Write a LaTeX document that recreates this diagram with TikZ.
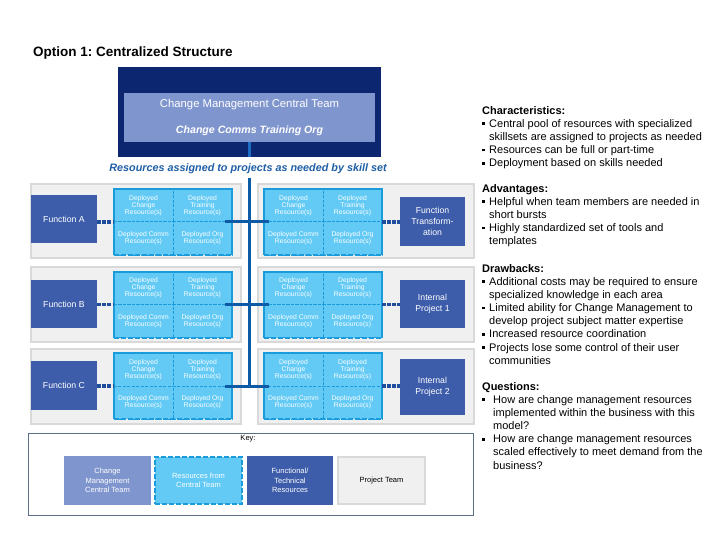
\documentclass[tikz,border=0pt]{standalone}
\usepackage{fontspec}
\setmainfont{Liberation Sans}
\usetikzlibrary{calc}
\frenchspacing
\definecolor{navy}{HTML}{0C2670}
\definecolor{peri}{HTML}{7F95CD}
\definecolor{func}{HTML}{3D5DAA}
\definecolor{cellfill}{HTML}{62CAF5}
\definecolor{cellline}{HTML}{1A9BDB}
\definecolor{conn}{HTML}{0D5AA7}
\definecolor{conntop}{HTML}{1C6BC4}
\definecolor{dotc}{HTML}{1F4E9C}
\definecolor{assign}{HTML}{1F5FA6}
\definecolor{panelfill}{HTML}{F0F0F0}
\definecolor{panelline}{HTML}{D9D9D9}
\definecolor{keyline}{HTML}{5B6F8A}
\newcommand\fs[2]{\fontsize{#1}{#2}\selectfont}
\newcommand\sqb{\raisebox{2.3pt}{\rule{2.6pt}{2.6pt}}}
\tikzset{
  panel/.style={draw=panelline, fill=panelfill, line width=2.5pt, inner sep=0},
  funcbox/.style={fill=func, text=white, inner sep=0, align=center, font=\fs{8.7}{11}},
  cell/.style={fill=cellfill, draw=cellline, line width=1pt, dash pattern=on 3pt off 1.5pt,
    text=white, align=center, inner sep=0, minimum width=59pt, minimum height=33pt, font=\fs{6.8}{6.9}},
  clusterline/.style={draw=cellline, line width=2pt},
  clusterdash/.style={draw=cellline, line width=2pt, dash pattern=on 5pt off 2pt},
  hconn/.style={draw=conn, line width=3pt},
  dotconn/.style={draw=dotc, line width=3.5pt, dash pattern=on 3.5pt off 1.6pt},
  keytext/.style={font=\fs{7.5}{9.5}, align=center},
  sidetext/.style={anchor=north west, inner sep=0, font=\fs{11}{13.15}},
}
\newcommand\rescluster[3]{%
  \node[cell] (#1a) at (#2+29.5, #3+16.5) {Deployed\\Change\\Resource(s)};
  \node[cell] (#1b) at (#2+88.5, #3+16.5) {Deployed\\Training\\Resource(s)};
  \node[cell] (#1c) at (#2+29.5, #3+49.5) {Deployed Comm\\Resource(s)};
  \node[cell] (#1d) at (#2+88.5, #3+49.5) {Deployed Org\\Resource(s)};
  \draw[clusterline] (#2,#3+66) -- (#2,#3) -- (#2+118,#3) -- (#2+118,#3+66);
  \draw[clusterdash] (#2,#3+66) -- (#2+118,#3+66);
  \coordinate (#1W) at (#2, #3+33);
  \coordinate (#1E) at (#2+118, #3+33);
}
\begin{document}
\begin{tikzpicture}[x=1pt, y=-1pt]
\useasboundingbox (0,0) rectangle (720,540);
\fill[white] (0,0) rectangle (720,540);

% title
\node[anchor=west, inner sep=0, font=\bfseries\fs{13.5}{16}] (title) at (33,53) {Option 1: Centralized Structure};

% central team
\node[fill=navy, minimum width=263pt, minimum height=90pt, inner sep=0] (navy) at (249.5,112) {};
\node[fill=peri, minimum width=251pt, minimum height=49pt, inner sep=0] (inner) at (249.5,117.5) {};
\node[text=white, inner sep=0, font=\fs{11.3}{13}] (cmct) at (249.5,105) {Change Management Central Team};
\node[text=white, inner sep=0, font=\bfseries\itshape\fs{10.6}{13}] (ccto) at (249.5,131) {Change Comms Training Org};
\draw[draw=conntop, line width=3pt] (inner.south) -- (inner.south |- navy.south);
\node[text=assign, inner sep=0, font=\bfseries\itshape\fs{10.8}{13}] (assign) at (248,169) {Resources assigned to projects as needed by skill set};

% panels
\node[panel, minimum width=210pt, minimum height=74pt] (pla) at (136,221) {};
\node[panel, minimum width=210pt, minimum height=75pt] (plb) at (136,304.5) {};
\node[panel, minimum width=210pt, minimum height=75pt] (plc) at (136,386.5) {};
\node[panel, minimum width=216pt, minimum height=74pt] (pra) at (366,221) {};
\node[panel, minimum width=216pt, minimum height=75pt] (prb) at (366,304.5) {};
\node[panel, minimum width=216pt, minimum height=75pt] (prc) at (366,386.5) {};

% vertical trunk
\coordinate (vtop) at (249,178);
\coordinate (vbot) at (249,388);
\draw[draw=conn, line width=3pt] (vtop) -- (vbot);

% function boxes
\node[funcbox, minimum width=66pt, minimum height=48pt] (fa) at (64,219) {Function A};
\node[funcbox, minimum width=66pt, minimum height=48pt] (fb) at (64,304) {Function B};
\node[funcbox, minimum width=66pt, minimum height=49pt] (fc) at (64,385.5) {Function C};
\node[funcbox, minimum width=65pt, minimum height=49pt] (ra) at (432.5,221.5) {Function\\Transform-\\ation};
\node[funcbox, minimum width=65pt, minimum height=48pt] (rb) at (432.5,304) {Internal\\Project 1};
\node[funcbox, minimum width=65pt, minimum height=56pt] (rc) at (432.5,387) {Internal\\Project 2};

% resource clusters
\rescluster{cla}{114}{189}
\rescluster{clb}{114}{271.5}
\rescluster{clc}{114}{353}
\rescluster{cra}{264}{189}
\rescluster{crb}{264}{271.5}
\rescluster{crc}{264}{353}

% horizontal connectors
\draw[hconn] ([xshift=-7pt]claE) -- ([xshift=5pt]craW);
\draw[hconn] ([xshift=-7pt]clbE) -- ([xshift=5pt]crbW);
\draw[hconn] ([xshift=-7pt]clcE) -- ([xshift=5pt]crcW);

% dotted connectors
\draw[dotconn] (fa.east |- claW) -- (claW);
\draw[dotconn] (fb.east |- clbW) -- (clbW);
\draw[dotconn] (fc.east |- clcW) -- (clcW);
\draw[dotconn] (craE) -- (ra.west |- craE);
\draw[dotconn] (crbE) -- (rb.west |- crbE);
\draw[dotconn] (crcE) -- (rc.west |- crcE);

% key
\node[draw=keyline, line width=0.8pt, minimum width=445pt, minimum height=82pt, inner sep=0] (key) at (250.5,474) {};
\node[inner sep=0, font=\fs{7.5}{9.5}] (keylbl) at (248,439) {Key:};
\node[keytext, fill=peri, text=white, minimum width=87pt, minimum height=49pt, inner sep=0] (k1) at (107.5,480.5) {Change\\Management\\Central Team};
\node[keytext, fill=cellfill, draw=cellline, line width=2.5pt, dash pattern=on 5pt off 2pt, text=white, minimum width=87pt, minimum height=47pt, inner sep=0] (k2) at (198.5,480.5) {Resources from\\Central Team};
\node[keytext, fill=func, text=white, minimum width=86pt, minimum height=49pt, inner sep=0] (k3) at (290,480.5) {Functional/\\Technical\\Resources};
\node[keytext, fill=panelfill, draw=panelline, line width=2.5pt, minimum width=87pt, minimum height=47pt, inner sep=0] (k4) at (381.5,480.5) {Project Team};

% side text
\node[sidetext] (chars) at (482,104.8) {\begin{tabular}{@{}p{7pt}@{}l@{}}
\multicolumn{2}{@{}l@{}}{\bfseries Characteristics:}\\
\sqb & Central pool of resources with specialized\\
 & skillsets are assigned to projects as needed\\
\sqb & Resources can be full or part-time\\
\sqb & Deployment based on skills needed
\end{tabular}};
\node[sidetext] (adv) at (482,182.8) {\begin{tabular}{@{}p{7pt}@{}l@{}}
\multicolumn{2}{@{}l@{}}{\bfseries Advantages:}\\
\sqb & Helpful when team members are needed in\\
 & short bursts\\
\sqb & Highly standardized set of tools and\\
 & templates
\end{tabular}};
\node[sidetext] (draw) at (482,262.8) {\begin{tabular}{@{}p{7pt}@{}l@{}}
\multicolumn{2}{@{}l@{}}{\bfseries Drawbacks:}\\
\sqb & Additional costs may be required to ensure\\
 & specialized knowledge in each area\\
\sqb & Limited ability for Change Management to\\
 & develop project subject matter expertise\\
\sqb & Increased resource coordination\\
\sqb & Projects lose some control of their user\\
 & communities
\end{tabular}};
\node[sidetext] (quest) at (482,380.8) {\begin{tabular}{@{}p{11pt}@{}l@{}}
\multicolumn{2}{@{}l@{}}{\bfseries Questions:}\\
\sqb & How are change management resources\\
 & implemented within the business with this\\
 & model?\\
\sqb & How are change management resources\\
 & scaled effectively to meet demand from the\\
 & business?
\end{tabular}};
\end{tikzpicture}
\end{document}
